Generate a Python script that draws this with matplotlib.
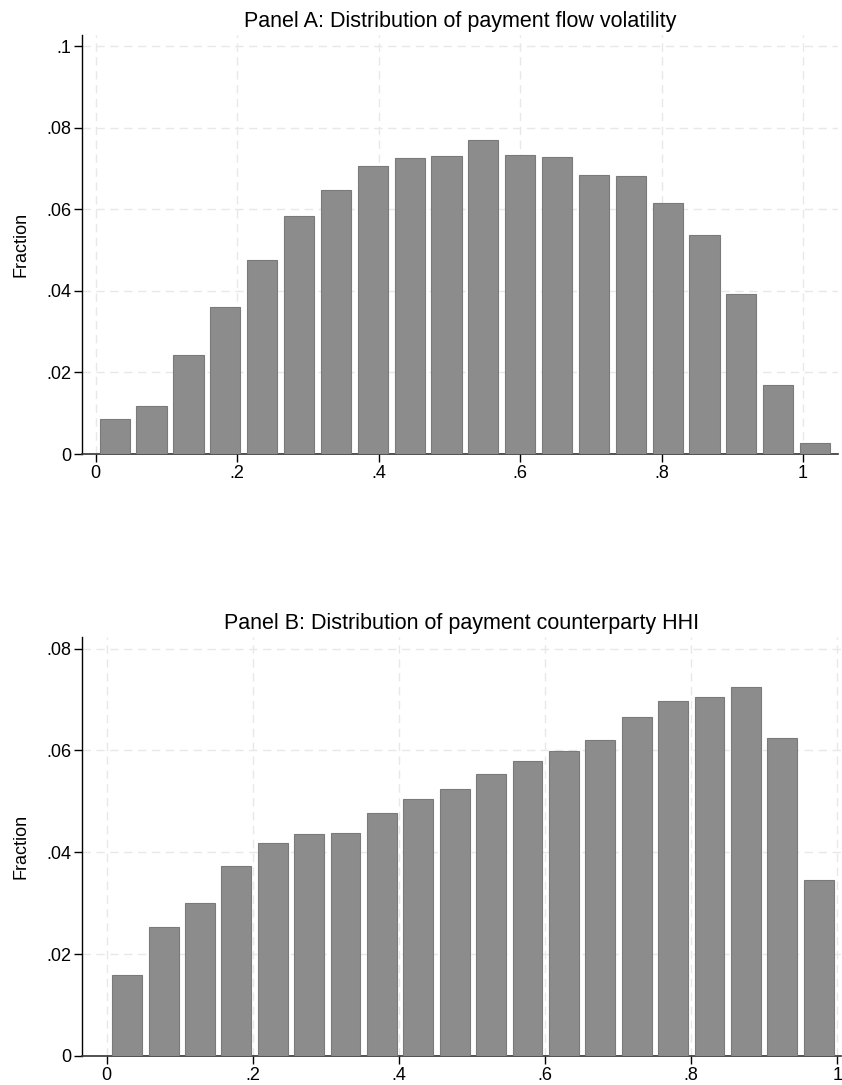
import matplotlib
matplotlib.use("Agg")
import matplotlib.pyplot as plt
import numpy as np

plt.rcParams['font.family'] = ['Liberation Sans', 'DejaVu Sans']

# Panel A data
a_start = 0.0058
a_width = 0.0521
a_values = [0.0086, 0.0118, 0.0243, 0.0360, 0.0476, 0.0583, 0.0647, 0.0707,
            0.0725, 0.0730, 0.0770, 0.0734, 0.0728, 0.0684, 0.0681, 0.0614,
            0.0537, 0.0392, 0.0169, 0.0027]
a_title = "Panel A: Distribution of payment flow volatility"
a_yticks = [0, 0.02, 0.04, 0.06, 0.08, 0.1]
a_yticklabels = ["0", ".02", ".04", ".06", ".08", ".1"]

# Panel B data
b_start = 0.0077
b_width = 0.0498
b_values = [0.0160, 0.0253, 0.0300, 0.0373, 0.0418, 0.0436, 0.0438, 0.0477,
            0.0504, 0.0524, 0.0553, 0.0579, 0.0598, 0.0620, 0.0665, 0.0697,
            0.0704, 0.0725, 0.0625, 0.0345]
b_title = "Panel B: Distribution of payment counterparty HHI"
b_yticks = [0, 0.02, 0.04, 0.06, 0.08]
b_yticklabels = ["0", ".02", ".04", ".06", ".08"]

xticks = [0, 0.2, 0.4, 0.6, 0.8, 1.0]
xticklabels = ["0", ".2", ".4", ".6", ".8", "1"]

W, H = 842, 1085
fig = plt.figure(figsize=(W / 100, H / 100), dpi=100)

def panel(rect, start, width, values, title, yticks, yticklabels, xlim, ylim):
    l, t, r, b = rect
    ax = fig.add_axes([l / W, 1 - b / H, (r - l) / W, (b - t) / H])
    n = len(values)
    lefts = start + width * np.arange(n)
    ax.bar(lefts, values, width=width * 0.82, align='edge',
           color='#8c8c8c', edgecolor='#7a7a7a', linewidth=0.8, zorder=3)
    ax.set_xlim(*xlim)
    ax.set_ylim(*ylim)
    ax.set_xticks(xticks)
    ax.set_xticklabels(xticklabels)
    ax.set_yticks(yticks)
    ax.set_yticklabels(yticklabels)
    ax.grid(True, color='#e8e8e8', linestyle=(0, (6, 4)), linewidth=1.0, zorder=0)
    for s in ['top', 'right']:
        ax.spines[s].set_visible(False)
    ax.spines['left'].set_color('black')
    ax.spines['bottom'].set_color('#333333')
    ax.spines['left'].set_linewidth(1.0)
    ax.spines['bottom'].set_linewidth(1.2)
    ax.tick_params(axis='both', length=6, width=1.0, labelsize=13, pad=2, colors='black')
    ax.set_ylabel("Fraction", fontsize=13, labelpad=12)
    ax.set_title(title, fontsize=15.5, pad=6)
    ax.set_axisbelow(True)
    return ax

panel((82.3, 35, 837.7, 454), a_start, a_width, a_values, a_title,
      a_yticks, a_yticklabels, (-0.0187, 1.049), (0, 0.1027))
panel((82.3, 637.3, 841, 1056), b_start, b_width, b_values, b_title,
      b_yticks, b_yticklabels, (-0.0334, 1.005), (0, 0.0822))

fig.savefig("out.png", dpi=100)
